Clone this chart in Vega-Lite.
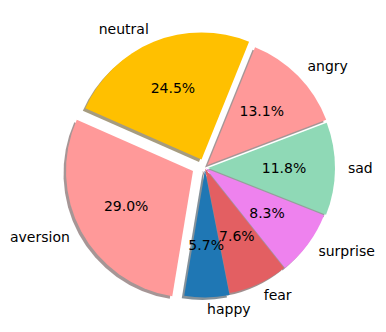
{
  "$schema": "https://vega.github.io/schema/vega-lite/v6.json",
  "width": 360,
  "height": 326,
  "autosize": {"type": "none"},
  "padding": {"left": 25, "top": 5, "right": 1, "bottom": 1},
  "background": "white",
  "data": {
    "values": [
      {"emotion": "angry", "share": 13.1},
      {"emotion": "sad", "share": 11.8},
      {"emotion": "surprise", "share": 8.3},
      {"emotion": "fear", "share": 7.6},
      {"emotion": "happy", "share": 5.7},
      {"emotion": "aversion", "share": 29.0},
      {"emotion": "neutral", "share": 24.5}
    ]
  },
  "transform": [
    {"window": [{"op": "row_number", "as": "i"}]},
    {"stack": "share", "groupby": [], "sort": [{"field": "i"}], "as": ["v0", "v1"]},
    {"calculate": "(datum.v0 + datum.v1) / 2", "as": "mid"},
    {"calculate": "datum.share / 100", "as": "pct"}
  ],
  "layer": [
    {
      "mark": {
        "type": "arc",
        "outerRadius": 127,
        "opacity": 0.5,
        "xOffset": {"expr": "(datum.emotion=='aversion'?-12:datum.emotion=='neutral'?-3.5:datum.emotion=='angry'?2.5:datum.emotion=='sad'?3:datum.emotion=='surprise'?1:0) - 2.5"},
        "yOffset": {"expr": "(datum.emotion=='aversion'?3:datum.emotion=='neutral'?-8.5:datum.emotion=='angry'?-3:datum.emotion=='sad'?0:datum.emotion=='surprise'?0.5:datum.emotion=='fear'?0.5:2.5) + 2.5"}
      },
      "encoding": {
        "theta": {"field": "v0", "type": "quantitative", "stack": null, "scale": {"domain": [0, 100], "range": [0.384, 6.667]}},
        "theta2": {"field": "v1"},
        "color": {
          "field": "emotion", "type": "nominal", "legend": null,
          "scale": {
            "domain": ["angry", "sad", "surprise", "fear", "happy", "aversion", "neutral"],
            "range": ["#4d2e2e", "#2b4137", "#472747", "#441d1d", "#092436", "#4d2e2e", "#4d3a00"]
          }
        }
      }
    },
    {
      "mark": {
        "type": "arc",
        "outerRadius": 127,
        "xOffset": {"expr": "(datum.emotion=='aversion'?-12:datum.emotion=='neutral'?-3.5:datum.emotion=='angry'?2.5:datum.emotion=='sad'?3:datum.emotion=='surprise'?1:0)"},
        "yOffset": {"expr": "(datum.emotion=='aversion'?3:datum.emotion=='neutral'?-8.5:datum.emotion=='angry'?-3:datum.emotion=='sad'?0:datum.emotion=='surprise'?0.5:datum.emotion=='fear'?0.5:2.5)"}
      },
      "encoding": {
        "theta": {"field": "v0", "type": "quantitative", "stack": null, "scale": {"domain": [0, 100], "range": [0.384, 6.667]}},
        "theta2": {"field": "v1"},
        "fill": {
          "field": "emotion", "type": "nominal", "legend": null,
          "scale": {
            "domain": ["angry", "sad", "surprise", "fear", "happy", "aversion", "neutral"],
            "range": ["#ff9999", "#8fd9b6", "#ee82ee", "#e35f62", "#1f77b4", "#ff9999", "#ffc000"]
          }
        }
      }
    },
    {
      "mark": {
        "type": "text",
        "radius": 140,
        "font": "DejaVu Sans",
        "fontSize": 14,
        "color": "#000000",
        "baseline": "middle",
        "align": {"expr": "sin(0.384+datum.mid/100*2*PI) > 0 ? 'left' : 'right'"},
        "xOffset": {"expr": "(datum.emotion=='aversion'?-12:datum.emotion=='neutral'?-3.5:datum.emotion=='angry'?2.5:datum.emotion=='sad'?3:datum.emotion=='surprise'?1:0)"},
        "yOffset": {"expr": "(datum.emotion=='aversion'?3:datum.emotion=='neutral'?-8.5:datum.emotion=='angry'?-3:datum.emotion=='sad'?0:datum.emotion=='surprise'?0.5:datum.emotion=='fear'?0.5:2.5)"}
      },
      "encoding": {
        "theta": {"field": "mid", "type": "quantitative", "stack": null, "scale": {"domain": [0, 100], "range": [0.384, 6.667]}},
        "text": {"field": "emotion", "type": "nominal"}
      }
    },
    {
      "mark": {
        "type": "text",
        "radius": 76,
        "font": "DejaVu Sans",
        "fontSize": 14,
        "color": "#000000",
        "baseline": "middle",
        "align": "center",
        "xOffset": {"expr": "(datum.emotion=='aversion'?-12:datum.emotion=='neutral'?-3.5:datum.emotion=='angry'?2.5:datum.emotion=='sad'?3:datum.emotion=='surprise'?1:0)"},
        "yOffset": {"expr": "(datum.emotion=='aversion'?3:datum.emotion=='neutral'?-8.5:datum.emotion=='angry'?-3:datum.emotion=='sad'?0:datum.emotion=='surprise'?0.5:datum.emotion=='fear'?0.5:2.5)"}
      },
      "encoding": {
        "theta": {"field": "mid", "type": "quantitative", "stack": null, "scale": {"domain": [0, 100], "range": [0.384, 6.667]}},
        "text": {"field": "pct", "type": "quantitative", "format": ".1%"}
      }
    }
  ],
  "resolve": {"scale": {"color": "independent", "fill": "independent"}},
  "config": {"view": {"stroke": null}}
}
